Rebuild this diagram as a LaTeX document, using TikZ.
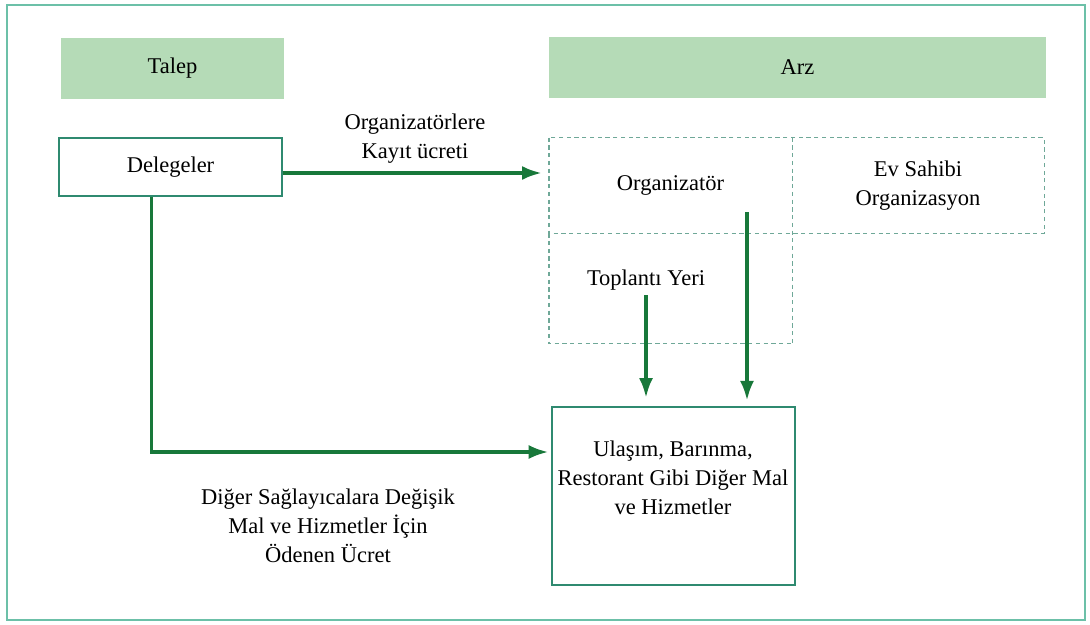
\documentclass[tikz,border=0pt]{standalone}
\usepackage{fontspec}
\setmainfont{Liberation Serif}
\usetikzlibrary{arrows.meta,calc}
\definecolor{headgreen}{HTML}{B5DBB7}
\definecolor{flowgreen}{HTML}{18783A}
\definecolor{boxteal}{HTML}{2F8A70}
\definecolor{frameteal}{HTML}{6CC0A8}
\definecolor{dashteal}{HTML}{6FA898}

\begin{document}
\begin{tikzpicture}[x=0.025cm, y=-0.025cm,
    font=\fontsize{16}{20.6}\selectfont,
    head/.style={fill=headgreen, minimum height=1.5cm, inner sep=0pt},
    box/.style={draw=boxteal, line width=1.2pt, inner sep=0pt},
    cell/.style={inner sep=0pt, align=center},
    dashline/.style={draw=dashteal, line width=1.1pt, dash pattern=on 3pt off 2.5pt},
    flow/.style={draw=flowgreen, line width=2.4pt, -{Latex[length=14pt,width=10pt]}}]

\useasboundingbox (0,0) rectangle (1090,624);
% outer frame
\draw[frameteal, line width=1.4pt] (7,5) rectangle (1085,620);

% headers
\node[head, minimum width={223*0.025cm}] (talep) at (172.5,68.5) {Talep};
\node[head, minimum width={497*0.025cm}] (arz) at (797.5,67.5) {Arz};

\node[box, minimum width={223*0.025cm}, minimum height={58*0.025cm}] (deleg) at (170.5,167) {Delegeler};

% supply side cells
\node[cell, minimum width={243*0.025cm}, minimum height={95*0.025cm}] (orgcell) at (670.5,185.5) {Organizatör};
\node[cell, minimum width={252*0.025cm}, minimum height={95*0.025cm}] (evcell) at (918,185.5) {Ev Sahibi\\Organizasyon};
\node[cell, minimum width={243*0.025cm}, minimum height={110*0.025cm}] (topcell) at (670.5,288) {};
\node (toplanti) at (646,280) {Toplantı Yeri};
% dashed grid
\draw[dashline] (orgcell.north west) rectangle (evcell.south east);
\draw[dashline] (orgcell.north east) -- (topcell.south east);
\draw[dashline] (orgcell.south west) -- (topcell.south west) -- (topcell.south east);

% goods and services
\node[box, minimum width={243*0.025cm}, minimum height={178*0.025cm}] (hizmet) at (673.5,496) {};
\node[align=center] (hizmettxt) at (673,478) {Ulaşım, Barınma,\\Restorant Gibi Diğer Mal\\ve Hizmetler};

% payments
\node[align=center] (kayit) at (415,139) {Organizatörlere\\Kayıt ücreti};
\node[align=center] (ucret) at (328,526) {Diğer Sağlayıcalara Değişik\\Mal ve Hizmetler İçin\\Ödenen Ücret};

\coordinate (orgout) at (747,212);

\draw[flow, shorten >=5pt] ($(deleg.east)+(0,6)$) -- ($(deleg.east -| orgcell.west)+(0,6)$);
\draw[flow, shorten >=2pt] ($(deleg.south)+(-19,0)$) |- ($(hizmet.west)+(0,-44)$);
\draw[flow, shorten >=4pt] (orgout) -- (orgout |- hizmet.north);
\draw[flow, shorten >=6pt] (toplanti.south) -- (toplanti.south |- hizmet.north);

\end{tikzpicture}
\end{document}
